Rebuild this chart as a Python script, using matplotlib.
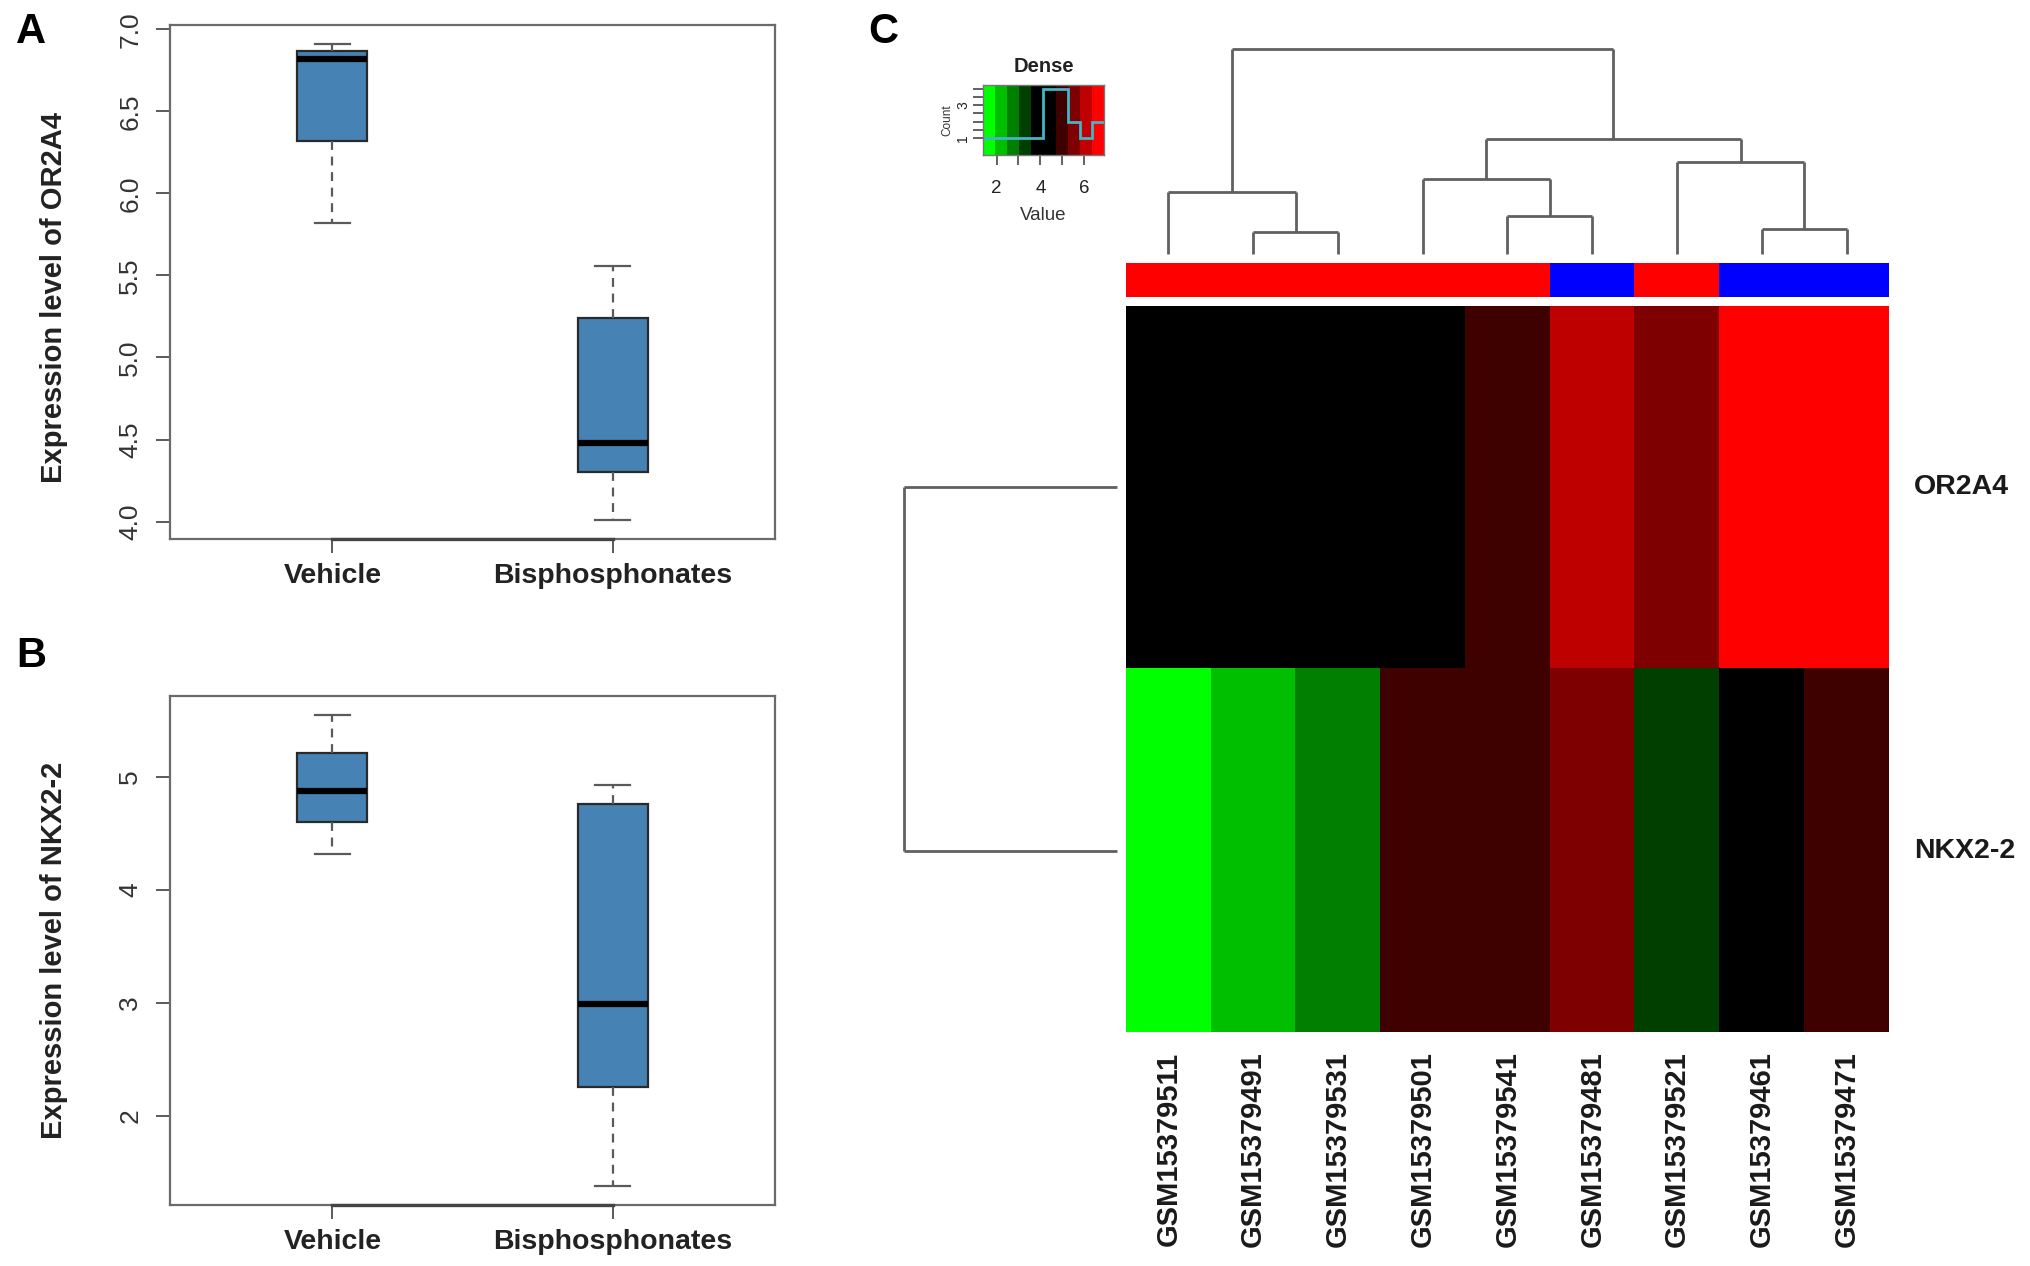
import numpy as np
import matplotlib
matplotlib.use("Agg")
import matplotlib.pyplot as plt
from matplotlib.colors import ListedColormap, BoundaryNorm
from matplotlib import font_manager

# ---------------- data ----------------
samples = ["GSM15379511", "GSM15379491", "GSM15379531", "GSM15379501", "GSM15379541",
           "GSM15379481", "GSM15379521", "GSM15379461", "GSM15379471"]
groups = ["Bisphosphonates", "Bisphosphonates", "Bisphosphonates", "Bisphosphonates",
          "Bisphosphonates", "Vehicle", "Bisphosphonates", "Vehicle", "Vehicle"]
genes = ["OR2A4", "NKX2-2"]
or2a4 = [4.01, 4.30, 4.45, 4.51, 5.24, 5.82, 5.56, 6.82, 6.91]
nkx22 = [1.38, 2.26, 2.90, 4.76, 4.93, 5.55, 3.09, 4.32, 4.88]
group_order = ["Vehicle", "Bisphosphonates"]
group_colors = {"Bisphosphonates": "#FF0000", "Vehicle": "#0000FF"}
heat_colors = ["#00FF00", "#00BF00", "#007F00", "#003F00", "#000000",
               "#000000", "#3F0000", "#7F0000", "#BF0000", "#FF0000"]
# column dendrogram (leaf indices in display order, scipy-like linkage rows)
col_links = [(1, 2, 0.107), (7, 8, 0.123), (4, 5, 0.187), (0, 9, 0.303),
             (3, 11, 0.364), (6, 10, 0.449), (13, 14, 0.561), (12, 15, 1.0)]
row_links = [(0, 1, 1.0)]
key_ticks = [2, 3, 4, 5, 6]
key_ticklabels = ["2", "", "4", "", "6"]
count_ticks = [1, 1.5, 2, 2.5, 3, 3.5, 4]
count_ticklabels = ["1", "", "", "", "3", "", ""]

# ---------------- fonts ----------------
names = {f.name for f in font_manager.fontManager.ttflist}
FONT = "Liberation Sans" if "Liberation Sans" in names else "DejaVu Sans"
plt.rcParams["font.family"] = [FONT, "DejaVu Sans"]

W, H = 2031, 1266
fig = plt.figure(figsize=(W / 100, H / 100), dpi=100)


def px_axes(left, top, right, bottom):
    return fig.add_axes([left / W, 1 - bottom / H, (right - left) / W, (bottom - top) / H])


def fivenum(x):
    x = np.sort(np.asarray(x, float))
    n = len(x)
    n4 = np.floor((n + 3) / 2) / 2
    d = np.array([1, n4, (n + 1) / 2, n + 1 - n4, n]) - 1
    return 0.5 * (x[np.floor(d).astype(int)] + x[np.ceil(d).astype(int)])


def box_stats(vals):
    mn, q1, med, q3, mx = fivenum(vals)
    iqr = q3 - q1
    v = np.asarray(vals)
    lo = v[v >= q1 - 1.5 * iqr].min()
    hi = v[v <= q3 + 1.5 * iqr].max()
    return dict(med=med, q1=q1, q3=q3, whislo=lo, whishi=hi, fliers=[])


GRAY = "#5a5a5a"


def boxpanel(ax, values, ylabel, yticks, yticklabels, label_y):
    stats = []
    for g in group_order:
        stats.append(box_stats([v for v, gg in zip(values, groups) if gg == g]))
    ax.bxp(stats, positions=[1, 2], widths=0.25, patch_artist=True,
           boxprops=dict(facecolor="#4682B4", edgecolor="#2a2a2a", linewidth=1.6),
           medianprops=dict(color="black", linewidth=4.5),
           whiskerprops=dict(color=GRAY, linewidth=1.6, linestyle=(0, (4, 3))),
           capprops=dict(color=GRAY, linewidth=1.6), showfliers=False)
    lo, hi = min(values), max(values)
    pad = 0.04 * (hi - lo)
    ax.set_ylim(lo - pad, hi + pad)
    ax.set_xlim(0.42, 2.58)
    for s in ax.spines.values():
        s.set_color("#6a6a6a")
        s.set_linewidth(1.6)
    ax.set_xticks([1, 2])
    ax.set_xticklabels(group_order, fontsize=20.5, fontweight="bold", color="#222222")
    ax.set_yticks(yticks)
    ax.set_yticklabels(yticklabels, fontsize=19, color="#333333", rotation=90, va="center")
    ax.tick_params(axis="both", length=10, width=1.4, color=GRAY)
    ax.tick_params(axis="x", pad=7)
    ax.tick_params(axis="y", pad=10)
    ax.plot([1, 2], [lo - pad, lo - pad], color="#444444", lw=2.4, clip_on=False, zorder=5)
    ax.set_ylabel(ylabel, fontsize=21, fontweight="bold", color="#222222")
    ax.yaxis.set_label_coords(-0.168, label_y)


# ---------------- panel A ----------------
axA = px_axes(170, 25, 775, 539)
boxpanel(axA, or2a4, "Expression level of OR2A4",
         [4.0, 4.5, 5.0, 5.5, 6.0, 6.5, 7.0], ["4.0", "4.5", "5.0", "5.5", "6.0", "6.5", "7.0"],
         0.47)

# ---------------- panel B ----------------
axB = px_axes(170, 696, 775, 1205)
boxpanel(axB, nkx22, "Expression level of NKX2-2", [2, 3, 4, 5], ["2", "3", "4", "5"], 0.5)

fig.text(16 / W, 1 - 12 / H, "A", fontsize=30, fontweight="bold", ha="left", va="top")
fig.text(16 / W, 1 - 636 / H, "B", fontsize=30, fontweight="bold", ha="left", va="top")
fig.text(868 / W, 1 - 12 / H, "C", fontsize=30, fontweight="bold", ha="left", va="top")

# ---------------- heatmap ----------------
mat = np.array([or2a4, nkx22])
vmin, vmax = mat.min(), mat.max()
breaks = np.linspace(vmin, vmax, len(heat_colors) + 1)
cmap = ListedColormap(heat_colors)
norm = BoundaryNorm(breaks, cmap.N, clip=True)

axH = px_axes(1126, 306, 1889, 1032)
axH.imshow(mat, cmap=cmap, norm=norm, aspect="auto", interpolation="nearest")
axH.set_xlim(-0.5, len(samples) - 0.5)
axH.set_ylim(len(genes) - 0.5, -0.5)
for s in axH.spines.values():
    s.set_visible(False)
axH.set_xticks(range(len(samples)))
axH.set_xticklabels(samples, rotation=90, fontsize=21, fontweight="bold",
                    color="#1a1a1a", va="top")
axH.tick_params(axis="x", length=0, pad=14)
axH.set_yticks([])
for i, g in enumerate(genes):
    axH.text(1.033, 1 - (i + 0.5) / len(genes), g, transform=axH.transAxes,
             fontsize=20.5, fontweight="bold", ha="left", va="center", color="#1a1a1a")

# column side colours
axC = px_axes(1126, 263, 1889, 297)
gcodes = np.array([[group_order.index(g) for g in groups]])
axC.imshow(gcodes, cmap=ListedColormap([group_colors[g] for g in group_order]),
           vmin=-0.5, vmax=1.5, aspect="auto", interpolation="nearest")
axC.set_xlim(-0.5, len(samples) - 0.5)
axC.axis("off")


def dendro_segments(links, nleaves):
    pos = {i: float(i) for i in range(nleaves)}
    hgt = {i: 0.0 for i in range(nleaves)}
    segs = []
    for k, (a, b, h) in enumerate(links):
        node = nleaves + k
        segs.append(([pos[a], pos[a]], [hgt[a], h]))
        segs.append(([pos[b], pos[b]], [hgt[b], h]))
        segs.append(([pos[a], pos[b]], [h, h]))
        pos[node] = 0.5 * (pos[a] + pos[b])
        hgt[node] = h
    return segs


DCOL = "#606060"
axD = px_axes(1126, 49, 1889, 254)
for xs, ys in dendro_segments(col_links, len(samples)):
    axD.plot(xs, ys, color=DCOL, lw=2, clip_on=False, solid_capstyle="butt")
axD.set_xlim(-0.5, len(samples) - 0.5)
axD.set_ylim(0, 1)
axD.axis("off")

axR = px_axes(904, 306, 1117, 1032)
for xs, ys in dendro_segments(row_links, len(genes)):
    axR.plot(ys, xs, color=DCOL, lw=2, clip_on=False, solid_capstyle="butt")
axR.set_ylim(len(genes) - 0.5, -0.5)
axR.set_xlim(1, 0)
axR.axis("off")

# ---------------- colour key ----------------
axK = px_axes(983, 85, 1104, 155)
mids = 0.5 * (breaks[:-1] + breaks[1:])
axK.pcolormesh(breaks, [0, 1], mids[None, :], cmap=cmap, norm=norm)
counts, _ = np.histogram(mat.ravel(), bins=breaks)
axK.stairs(counts / counts.max() * 0.95, breaks, baseline=None, color="#45b4c4", lw=2)
axK.set_xlim(vmin, vmax)
axK.set_ylim(0, 1)
for s in axK.spines.values():
    s.set_color("#777777")
    s.set_linewidth(1)
axK.set_xticks(key_ticks)
axK.set_xticklabels(key_ticklabels, fontsize=13.5, color="#222222")
axK.set_yticks(np.array(count_ticks) / counts.max() * 0.95)
axK.set_yticklabels(count_ticklabels, fontsize=10, rotation=90, va="center", color="#222222")
axK.tick_params(axis="both", length=7, width=1.3, color="#555555")
axK.tick_params(axis="x", pad=11)
axK.tick_params(axis="y", pad=2)
axK.set_xlabel("Value", fontsize=13.5, color="#333333", labelpad=7)
axK.set_ylabel("Count", fontsize=8.5, color="#333333", labelpad=2)
axK.set_title("Dense", fontsize=14.5, fontweight="bold", color="#222222", pad=9)

fig.savefig("out.png", dpi=100)
